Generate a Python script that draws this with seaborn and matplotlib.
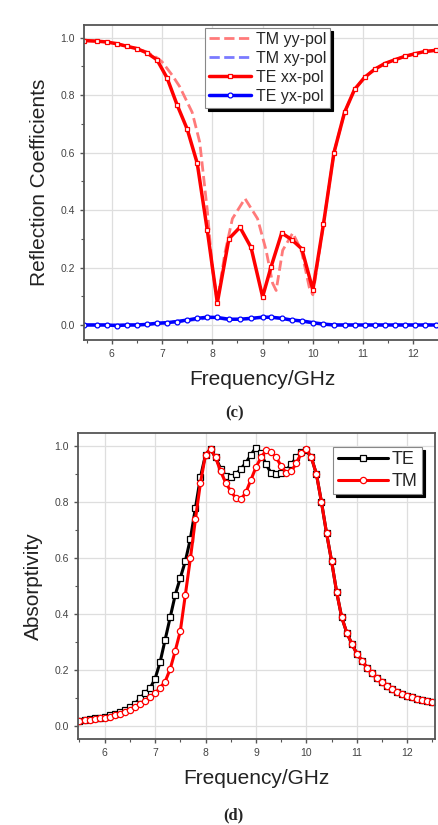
import numpy as np
import matplotlib
matplotlib.use("Agg")
import matplotlib.pyplot as plt
import seaborn as sns
from matplotlib.ticker import MultipleLocator

# ---- dados (c): coeficientes de reflexao ----
freq_c = [5.45, 5.7, 5.9, 6.1, 6.3, 6.5, 6.7, 6.9, 7.1, 7.3, 7.5, 7.7, 7.9, 8.1,
          8.33, 8.55, 8.77, 9.0, 9.17, 9.38, 9.58, 9.78, 10.0, 10.21, 10.42,
          10.63, 10.83, 11.03, 11.23, 11.43, 11.63, 11.83, 12.03, 12.23, 12.45]
te_xx = [0.99, 0.988, 0.985, 0.979, 0.97, 0.962, 0.947, 0.923, 0.86, 0.766,
         0.682, 0.563, 0.33, 0.077, 0.30, 0.34, 0.27, 0.098, 0.203, 0.32, 0.297,
         0.265, 0.122, 0.35, 0.60, 0.74, 0.82, 0.862, 0.89, 0.91, 0.923, 0.935,
         0.944, 0.952, 0.956]
te_yx = [0.0, 0.0, 0.0, -0.002, 0.0, 0.0, 0.002, 0.006, 0.008, 0.012, 0.017,
         0.023, 0.027, 0.026, 0.02, 0.02, 0.023, 0.027, 0.027, 0.023, 0.017,
         0.014, 0.008, 0.003, 0.0, 0.0, 0.0, 0.0, 0.0, 0.0, 0.0, 0.0, 0.0, 0.0, 0.0]

freq_tm = [5.45, 5.7, 5.9, 6.1, 6.3, 6.5, 6.7, 6.9, 7.0, 7.2, 7.35, 7.6, 7.75,
           7.9, 8.0, 8.1, 8.25, 8.4, 8.65, 8.9, 9.07, 9.2, 9.27, 9.4, 9.6,
           9.77, 9.93, 10.0, 10.21, 10.42, 10.63, 10.83, 11.03, 11.23, 11.43,
           11.63, 11.83, 12.03, 12.23, 12.45]
tm_yy = [0.99, 0.988, 0.985, 0.979, 0.97, 0.962, 0.95, 0.93, 0.916, 0.87, 0.83,
         0.74, 0.636, 0.40, 0.20, 0.08, 0.25, 0.37, 0.44, 0.37, 0.26, 0.145,
         0.12, 0.26, 0.32, 0.26, 0.13, 0.105, 0.35, 0.60, 0.74, 0.82, 0.862,
         0.89, 0.91, 0.923, 0.935, 0.944, 0.952, 0.956]
tm_xy = [0.0, 0.0, 0.0, 0.0, 0.0, 0.0, 0.002, 0.005, 0.006, 0.01, 0.012, 0.017,
         0.02, 0.024, 0.025, 0.024, 0.02, 0.019, 0.021, 0.024, 0.026, 0.026,
         0.025, 0.023, 0.018, 0.014, 0.009, 0.007, 0.003, 0.0, 0.0, 0.0, 0.0,
         0.0, 0.0, 0.0, 0.0, 0.0, 0.0, 0.0]

# ---- dados (d): absortividade ----
freq_d = [5.5, 5.6, 5.7, 5.8, 5.9, 6.0, 6.1, 6.2, 6.3, 6.4, 6.5, 6.6, 6.7, 6.8,
          6.9, 7.0, 7.1, 7.2, 7.3, 7.4, 7.5, 7.6, 7.7, 7.8, 7.9, 8.0, 8.1, 8.2,
          8.3, 8.4, 8.5, 8.6, 8.7, 8.8, 8.9, 9.0, 9.1, 9.2, 9.3, 9.4, 9.5, 9.6,
          9.7, 9.8, 9.9, 10.0, 10.1, 10.2, 10.3, 10.4, 10.5, 10.6, 10.7, 10.8,
          10.9, 11.0, 11.1, 11.2, 11.3, 11.4, 11.5, 11.6, 11.7, 11.8, 11.9, 12.0,
          12.1, 12.2, 12.3, 12.4, 12.5]
abs_te = [0.02, 0.022, 0.025, 0.028, 0.031, 0.035, 0.04, 0.045, 0.052, 0.06,
          0.068, 0.08, 0.10, 0.118, 0.136, 0.17, 0.23, 0.31, 0.39, 0.47, 0.53,
          0.59, 0.67, 0.78, 0.89, 0.97, 0.99, 0.96, 0.92, 0.895, 0.89, 0.90,
          0.92, 0.94, 0.97, 0.995, 0.975, 0.935, 0.905, 0.90, 0.905, 0.915,
          0.935, 0.96, 0.978, 0.985, 0.96, 0.90, 0.80, 0.69, 0.59, 0.48, 0.39,
          0.335, 0.295, 0.26, 0.235, 0.21, 0.19, 0.172, 0.157, 0.145, 0.133,
          0.123, 0.115, 0.108, 0.103, 0.098, 0.094, 0.09, 0.086]
abs_tm = [0.02, 0.022, 0.024, 0.026, 0.028, 0.031, 0.035, 0.039, 0.045, 0.052,
          0.06, 0.069, 0.08, 0.092, 0.105, 0.118, 0.138, 0.16, 0.205, 0.27,
          0.34, 0.47, 0.60, 0.74, 0.87, 0.97, 0.99, 0.96, 0.91, 0.87, 0.84,
          0.815, 0.81, 0.835, 0.88, 0.925, 0.96, 0.985, 0.98, 0.96, 0.93,
          0.905, 0.91, 0.94, 0.975, 0.99, 0.96, 0.90, 0.80, 0.69, 0.59, 0.48,
          0.39, 0.335, 0.295, 0.26, 0.235, 0.21, 0.19, 0.172, 0.157, 0.145,
          0.133, 0.123, 0.115, 0.108, 0.103, 0.098, 0.094, 0.09, 0.086]

sns.set_style("whitegrid")
plt.rcParams['font.family'] = ['Liberation Sans', 'DejaVu Sans']

fig = plt.figure(figsize=(4.38, 8.25), dpi=100)
ax1 = fig.add_axes([0.192, 0.588, 0.815, 0.382])
ax2 = fig.add_axes([0.178, 0.104, 0.815, 0.371])


def estilo(ax, xlim, ylim):
    ax.set_xlim(*xlim)
    ax.set_ylim(*ylim)
    ax.xaxis.set_major_locator(MultipleLocator(1))
    ax.xaxis.set_minor_locator(MultipleLocator(0.5))
    ax.yaxis.set_major_locator(MultipleLocator(0.2))
    ax.yaxis.set_minor_locator(MultipleLocator(0.1))
    ax.grid(True, which='major', color='#dedede', lw=0.9)
    ax.grid(False, which='minor')
    ax.yaxis.set_major_formatter(matplotlib.ticker.FormatStrFormatter('%.1f'))
    for s in ax.spines.values():
        s.set_visible(True)
        s.set_color('#555555')
        s.set_linewidth(1.3)
    ax.tick_params(which='both', direction='out', colors='#555555', labelsize=7.5,
                   labelcolor='#444444', bottom=True, left=True)
    ax.tick_params(which='major', length=3, width=1)
    ax.tick_params(which='minor', length=2, width=0.8)
    ax.set_xlabel('Frequency/GHz', fontsize=15, color='#222222', labelpad=8)


# ---- (c) ----
sns.lineplot(x=freq_tm, y=tm_yy, ax=ax1, color='#ff7a7a', lw=2, linestyle='--',
             label='TM yy-pol', sort=False)
sns.lineplot(x=freq_tm, y=tm_xy, ax=ax1, color='#7a7aff', lw=2, linestyle='--',
             label='TM xy-pol', sort=False)
sns.lineplot(x=freq_c, y=te_xx, ax=ax1, color='#ff0000', lw=2.5, marker='s',
             markersize=3.5, markerfacecolor='white', markeredgecolor='#ff0000',
             markeredgewidth=0.9, label='TE xx-pol', sort=False)
sns.lineplot(x=freq_c, y=te_yx, ax=ax1, color='#0000ff', lw=2.5, marker='o',
             markersize=3.5, markerfacecolor='white', markeredgecolor='#0000ff',
             markeredgewidth=0.9, label='TE yx-pol', sort=False)
estilo(ax1, (5.45, 12.55), (-0.052, 1.045))
ax1.set_ylabel('Reflection Coefficients', fontsize=15, color='#222222', labelpad=8)
leg1 = ax1.legend(loc='upper left', bbox_to_anchor=(0.34, 0.99), fontsize=11.5,
                  frameon=True, fancybox=False, handlelength=2.6,
                  borderpad=0.25, labelspacing=0.25, handletextpad=0.3,
                  borderaxespad=0, shadow={'color': 'black', 'alpha': 1})
leg1.get_frame().set_edgecolor('#888888')
leg1.get_frame().set_linewidth(0.8)

# ---- (d) ----
sns.lineplot(x=freq_d, y=abs_te, ax=ax2, color='black', lw=2.2, marker='s',
             markersize=4.2, markerfacecolor='white', markeredgecolor='black',
             markeredgewidth=0.9, label='TE')
sns.lineplot(x=freq_d, y=abs_tm, ax=ax2, color='#ff0000', lw=2.2, marker='o',
             markersize=4.5, markerfacecolor='white', markeredgecolor='#ff0000',
             markeredgewidth=0.9, label='TM')
estilo(ax2, (5.47, 12.55), (-0.046, 1.047))
ax2.set_ylabel('Absorptivity', fontsize=15, color='#222222', labelpad=8)
leg2 = ax2.legend(loc='upper left', bbox_to_anchor=(0.715, 0.955), fontsize=13,
                  frameon=True, fancybox=False, handlelength=2.8,
                  borderpad=0.25, labelspacing=0.25, handletextpad=0.2,
                  borderaxespad=0, shadow={'color': 'black', 'alpha': 1})
leg2.get_frame().set_edgecolor('#888888')
leg2.get_frame().set_linewidth(0.8)

fig.text(0.535, 1 - 413 / 825, '(c)', ha='center', va='center', fontsize=12,
         fontweight='bold', family='Liberation Serif')
fig.text(0.532, 1 - 815 / 825, '(d)', ha='center', va='center', fontsize=12,
         fontweight='bold', family='Liberation Serif')

fig.savefig('out.png', dpi=100)
